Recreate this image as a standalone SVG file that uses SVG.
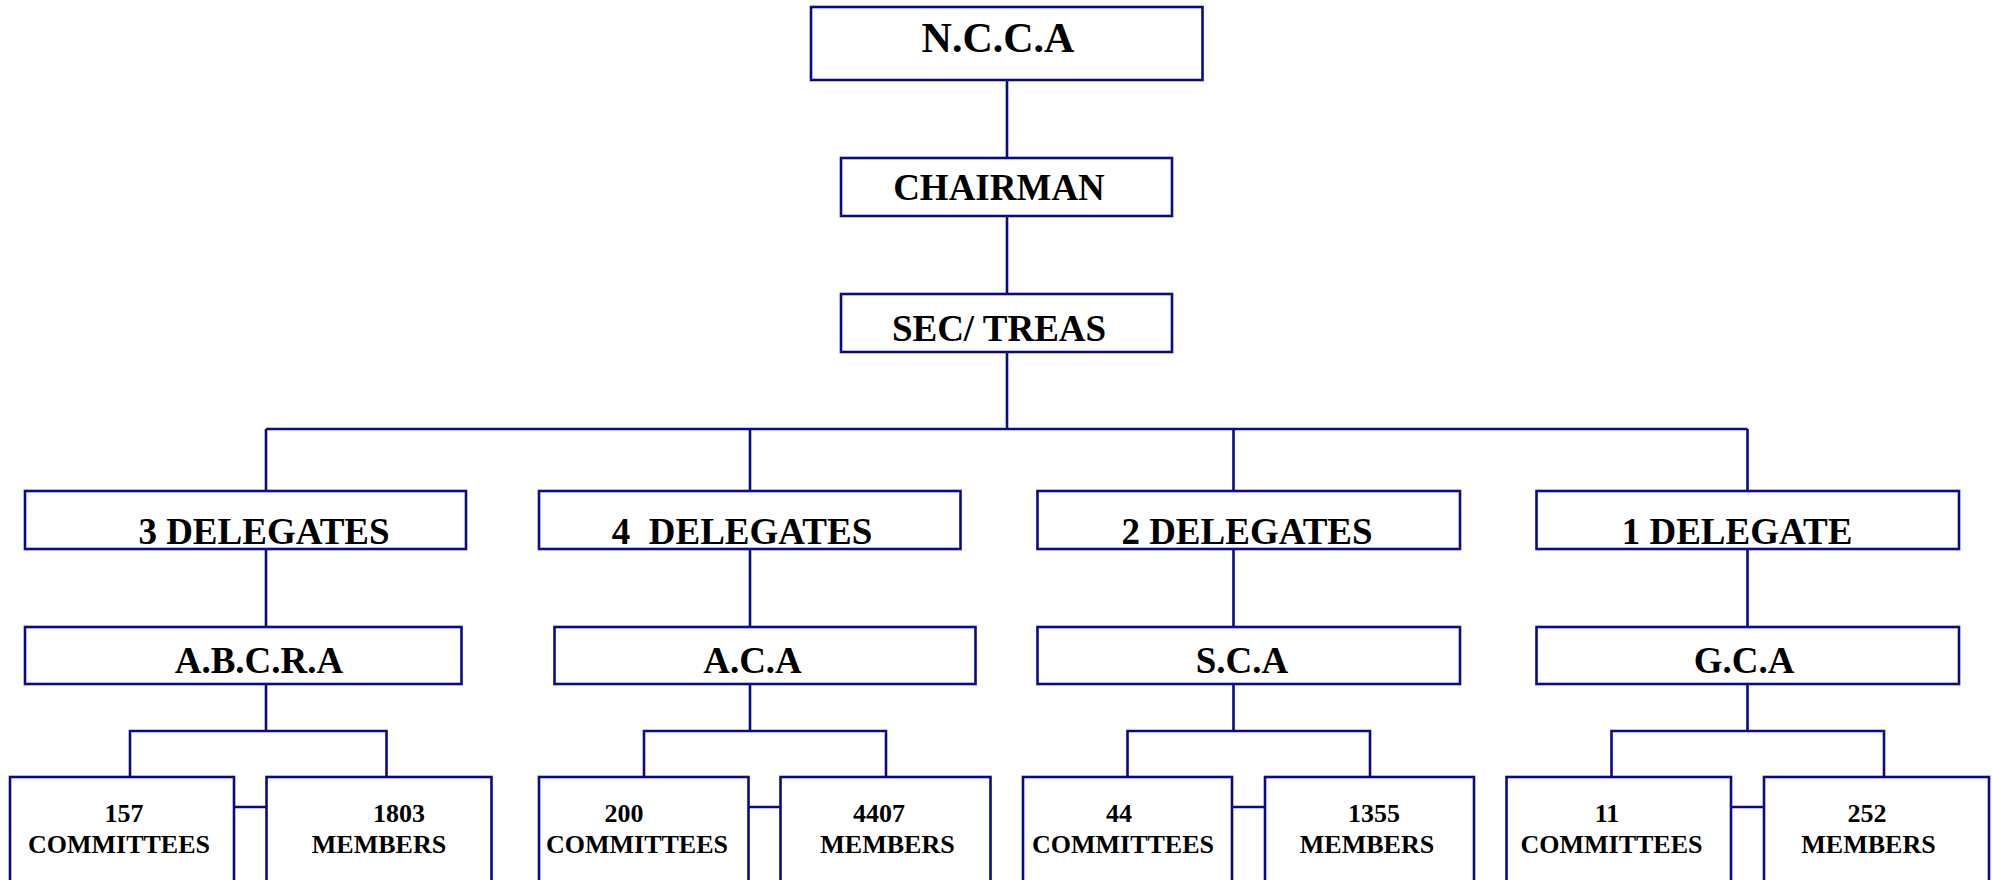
<svg xmlns="http://www.w3.org/2000/svg" width="1992" height="880" viewBox="0 0 1992 880">
<style>
.box{fill:#fff;stroke:#0a0a88;stroke-width:2.6}
.ln{fill:none;stroke:#0a0a88;stroke-width:2.6}
text{font-family:"Liberation Serif","Times New Roman",serif;font-weight:bold;fill:#000;text-anchor:middle}
.t1{font-size:42px}
.t2{font-size:37px}
.t3{font-size:26px}
</style>
<rect width="1992" height="880" fill="#fff"/>
<g id="connectors">
<path class="ln" d="M1007 80V158M1007 216V294M1007 352V429M266 429H1747.5M266 429V491M750 429V491M1233.5 429V491M1747.5 429V491"/>
<path class="ln" d="M266 549V627M750 549V627M1233.5 549V627M1747.5 549V627"/>
<path class="ln" d="M266 684V731M130 777V731H386.5V777M234 807H266.5"/>
<path class="ln" d="M750 684V731M644 777V731H886V777M748.5 807H780.5"/>
<path class="ln" d="M1233.5 684V731M1127.5 777V731H1370V777M1232 807H1265"/>
<path class="ln" d="M1747.5 684V731M1611.5 777V731H1884V777M1731 807H1764"/>
</g>
<g id="ncca"><rect class="box" x="811" y="7" width="391.5" height="73"/><text class="t1" x="998" y="52">N.C.C.A</text></g>
<g id="chairman"><rect class="box" x="841" y="158" width="331" height="58"/><text class="t2" x="999" y="200">CHAIRMAN</text></g>
<g id="sectreas"><rect class="box" x="841" y="294" width="331" height="58"/><text class="t2" x="999" y="341">SEC/ TREAS</text></g>

<g id="del3"><rect class="box" x="25" y="491" width="441" height="58"/><text class="t2" x="264" y="544">3 DELEGATES</text></g>
<g id="del4"><rect class="box" x="539" y="491" width="421.5" height="58"/><text class="t2" x="742" y="544" xml:space="preserve">4  DELEGATES</text></g>
<g id="del2"><rect class="box" x="1037.5" y="491" width="422.5" height="58"/><text class="t2" x="1247" y="544">2 DELEGATES</text></g>
<g id="del1"><rect class="box" x="1536.5" y="491" width="422.5" height="58"/><text class="t2" x="1737" y="544">1 DELEGATE</text></g>

<g id="abcra"><rect class="box" x="25" y="627" width="436.5" height="57"/><text class="t2" x="259" y="673">A.B.C.R.A</text></g>
<g id="aca"><rect class="box" x="554.5" y="627" width="421" height="57"/><text class="t2" x="752.5" y="673">A.C.A</text></g>
<g id="sca"><rect class="box" x="1037.5" y="627" width="422.5" height="57"/><text class="t2" x="1242" y="673">S.C.A</text></g>
<g id="gca"><rect class="box" x="1536.5" y="627" width="422.5" height="57"/><text class="t2" x="1744" y="673">G.C.A</text></g>

<g id="abcra-committees"><rect class="box" x="10" y="777" width="224" height="120"/><text class="t3" x="124" y="822">157</text><text class="t3" x="119" y="853">COMMITTEES</text></g>
<g id="abcra-members"><rect class="box" x="266.5" y="777" width="225" height="120"/><text class="t3" x="399" y="822">1803</text><text class="t3" x="379" y="853">MEMBERS</text></g>
<g id="aca-committees"><rect class="box" x="539" y="777" width="209.5" height="120"/><text class="t3" x="624" y="822">200</text><text class="t3" x="637" y="853">COMMITTEES</text></g>
<g id="aca-members"><rect class="box" x="780.5" y="777" width="210" height="120"/><text class="t3" x="879" y="822">4407</text><text class="t3" x="887.5" y="853">MEMBERS</text></g>
<g id="sca-committees"><rect class="box" x="1023" y="777" width="209" height="120"/><text class="t3" x="1119" y="822">44</text><text class="t3" x="1123" y="853">COMMITTEES</text></g>
<g id="sca-members"><rect class="box" x="1265" y="777" width="209" height="120"/><text class="t3" x="1374" y="822">1355</text><text class="t3" x="1367" y="853">MEMBERS</text></g>
<g id="gca-committees"><rect class="box" x="1506.5" y="777" width="224.5" height="120"/><text class="t3" x="1607" y="822">11</text><text class="t3" x="1611.5" y="853">COMMITTEES</text></g>
<g id="gca-members"><rect class="box" x="1764" y="777" width="225" height="120"/><text class="t3" x="1867" y="822">252</text><text class="t3" x="1868.5" y="853">MEMBERS</text></g>
</svg>
